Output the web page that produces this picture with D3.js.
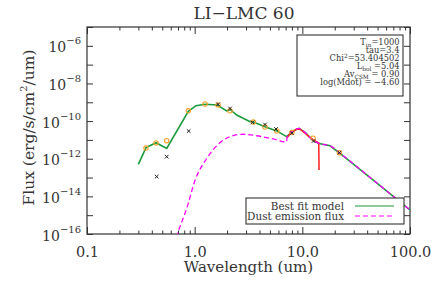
<!DOCTYPE html>
<html>
<head>
<meta charset="utf-8">
<script src="https://cdn.jsdelivr.net/npm/d3@7"></script>
<style>
  body { margin: 0; background: #fff; }
  text { font-family: "DejaVu Serif", serif; fill: #333; }
</style>
</head>
<body>
<div id="chart"></div>
<script>
// model SED (best fit)
var modelWave = [0.30, 0.353, 0.438, 0.55, 0.873, 1.03, 1.25, 1.62, 1.98, 2.15, 2.46, 3.27, 3.51, 4.50, 5.78, 7.13, 8.24, 9.31, 10.6, 12.6, 14.3, 18.1, 22.4, 50, 100];
var modelFlux = [5.0e-13, 3.9e-12, 7.1e-12, 3.5e-12, 3.3e-10, 6.6e-10, 7.8e-10, 7.2e-10, 3.5e-10, 4.0e-10, 2.1e-10, 9.3e-11, 8.9e-11, 5.0e-11, 3.0e-11, 1.5e-11, 3.1e-11, 4.1e-11, 2.5e-11, 9.3e-12, 6.5e-12, 4.9e-12, 1.95e-12, 4.8e-14, 1.9e-15];

// dust emission
var dustWave = [0.65, 0.69, 0.844, 1.01, 1.29, 1.63, 2.13, 2.83, 3.77, 5.37, 7.10, 7.25, 8.24, 9.31, 10.6, 12.6, 14.3, 18.1, 22.4, 50, 100];
var dustFlux = [2.5e-17, 8.9e-17, 2.3e-15, 7.4e-14, 1.0e-12, 5.4e-12, 1.5e-11, 2.0e-11, 1.66e-11, 1.12e-11, 7.8e-12, 1.55e-11, 3.1e-11, 4.1e-11, 2.5e-11, 9.3e-12, 6.5e-12, 4.9e-12, 1.95e-12, 4.8e-14, 1.9e-15];

// IRS spectrum
var specWave = [7.2, 7.6, 8.2, 8.9, 9.6, 10.5, 11.5, 12.5, 13.4, 14.2, 14.3];
var specFlux = [1.32e-11, 1.9e-11, 2.8e-11, 3.8e-11, 3.6e-11, 2.4e-11, 1.5e-11, 1.05e-11, 8.3e-12, 6.8e-12, 2.5e-13];

// observed photometry (crosses)
var obsWave = [0.444, 0.55, 0.88, 1.65, 2.13, 3.44, 4.50, 5.69, 8.0, 12.7, 22.1];
var obsFlux = [1.12e-13, 1.29e-12, 2.95e-11, 7.8e-10, 4.7e-10, 8.5e-11, 6.6e-11, 3.8e-11, 2.3e-11, 8.7e-12, 2.1e-12];

// corrected photometry (circles)
var corWave = [0.353, 0.438, 0.55, 0.873, 1.25, 1.65, 2.13, 3.51, 4.50, 5.8, 8.0, 12.6, 22.1];
var corFlux = [3.7e-12, 6.9e-12, 9.1e-12, 3.5e-10, 8.1e-10, 7.2e-10, 3.5e-10, 8.9e-11, 4.8e-11, 2.95e-11, 2.45e-11, 1.23e-11, 2.1e-12];

var xMajor = [0.1, 1, 10, 100];
var xMajorLabels = ["0.1", "1.0", "10.0", "100.0"];
var yExponents = [-16, -14, -12, -10, -8, -6];

var params = [
  {main: "T", sub: "in", rest: "=1000"},
  {main: "tau=3.4"},
  {main: "Chi", sup: "2", rest: "=53.404502"},
  {main: "L", sub: "bol", rest: " =5.04"},
  {main: "Av", sub: "CSM", rest: " = 0.90"},
  {main: "log(Mdot) = \u22124.60"}
];

var W = 436, H = 290;
var pLeft = 87, pRight = 410, pTop = 27, pBottom = 234;

var svg = d3.select("#chart").append("svg")
  .attr("width", W).attr("height", H);

var x = d3.scaleLog().domain([0.1, 100]).range([pLeft, pRight]);
var y = d3.scaleLog().domain([1e-16, 1e-5]).range([pBottom, pTop]);

svg.append("defs").append("clipPath").attr("id", "clip")
  .append("rect").attr("x", pLeft).attr("y", pTop)
  .attr("width", pRight - pLeft).attr("height", pBottom - pTop);

// title
svg.append("text").text("LI\u2212LMC 60")
  .attr("x", 244).attr("y", 18.5)
  .attr("text-anchor", "middle").style("font-size", "17px");

// x minor ticks
var xMinor = [];
[0.1, 1, 10].forEach(function(d) {
  for (var k = 2; k <= 9; k++) xMinor.push(d * k);
});

svg.append("g").attr("transform", "translate(0," + pBottom + ")")
  .call(d3.axisBottom(x).tickValues(xMinor).tickSize(-3.5).tickFormat(""));
svg.append("g").attr("transform", "translate(0," + pBottom + ")")
  .call(d3.axisBottom(x).tickValues(xMajor).tickSize(-7).tickPadding(13)
    .tickFormat(function(d, i) { return xMajorLabels[i]; }));
svg.append("g").attr("transform", "translate(0," + pTop + ")")
  .call(d3.axisTop(x).tickValues(xMinor).tickSize(-3.5).tickFormat(""));
svg.append("g").attr("transform", "translate(0," + pTop + ")")
  .call(d3.axisTop(x).tickValues(xMajor).tickSize(-7).tickFormat(""));

// y ticks every decade
var yTicks = d3.range(-16, -4).map(function(e) { return Math.pow(10, e); });
svg.append("g").attr("transform", "translate(" + pLeft + ",0)")
  .call(d3.axisLeft(y).tickValues(yTicks).tickSize(-6).tickFormat(""));
svg.append("g").attr("transform", "translate(" + pRight + ",0)")
  .call(d3.axisRight(y).tickValues(yTicks).tickSize(-6).tickFormat(""));

svg.selectAll(".domain").remove();
svg.selectAll(".tick line").attr("stroke", "#333");
svg.selectAll(".tick text").style("font-size", "14.5px").style("font-family", "DejaVu Serif, serif").attr("fill", "#333");

// frame
svg.append("rect").attr("x", pLeft).attr("y", pTop)
  .attr("width", pRight - pLeft).attr("height", pBottom - pTop)
  .attr("fill", "none").attr("stroke", "#333").attr("stroke-width", 1.2);

// y labels
yExponents.forEach(function(e) {
  var t = svg.append("text")
    .attr("x", 81).attr("y", y(Math.pow(10, e)) + 6.5)
    .attr("text-anchor", "end").style("font-size", "14px");
  t.append("tspan").text("10");
  t.append("tspan").text("\u2212" + (-e)).attr("dy", -8).style("font-size", "10px");
});

// axis titles
svg.append("text").text("Wavelength (um)")
  .attr("x", 248.5).attr("y", 272).attr("text-anchor", "middle")
  .style("font-size", "15px");
var yl = svg.append("text")
  .attr("transform", "translate(34," + 127.5 + ") rotate(-90)")
  .attr("text-anchor", "middle").style("font-size", "15.5px");
yl.append("tspan").text("Flux (erg/s/cm");
yl.append("tspan").text("2").attr("dy", -7).style("font-size", "10px");
yl.append("tspan").text("/um)").attr("dy", 7);

var plot = svg.append("g").attr("clip-path", "url(#clip)");

function pts(w, f) { return w.map(function(d, i) { return [d, f[i]]; }); }
var line = d3.line().x(function(d) { return x(d[0]); }).y(function(d) { return y(d[1]); });
var smooth = d3.line().curve(d3.curveMonotoneX)
  .x(function(d) { return x(d[0]); }).y(function(d) { return y(d[1]); });

plot.append("path").datum(pts(modelWave, modelFlux)).attr("d", line)
  .attr("fill", "none").attr("stroke", "#1a9a3a").attr("stroke-width", 1.6);
plot.append("path").datum(pts(specWave, specFlux)).attr("d", line)
  .attr("fill", "none").attr("stroke", "#ff2a2a").attr("stroke-width", 1.6);
plot.append("path").datum(pts(dustWave, dustFlux)).attr("d", smooth)
  .attr("fill", "none").attr("stroke", "#ff00ff").attr("stroke-width", 1.3)
  .attr("stroke-dasharray", "5,3");

// circles
plot.selectAll(".cor").data(pts(corWave, corFlux)).enter().append("circle")
  .attr("cx", function(d) { return x(d[0]); }).attr("cy", function(d) { return y(d[1]); })
  .attr("r", 2.2).attr("fill", "none").attr("stroke", "#f5a02a").attr("stroke-width", 1.1);

// crosses
plot.selectAll(".obs").data(pts(obsWave, obsFlux)).enter().append("path")
  .attr("transform", function(d) { return "translate(" + x(d[0]) + "," + y(d[1]) + ")"; })
  .attr("d", "M-1.8,-1.8L1.8,1.8M-1.8,1.8L1.8,-1.8")
  .attr("stroke", "#222").attr("stroke-width", 1);

// parameter box
svg.append("rect").attr("x", 297).attr("y", 35).attr("width", 106).attr("height", 61)
  .attr("fill", "#fff").attr("stroke", "#333").attr("stroke-width", 1.1);
params.forEach(function(p, i) {
  var t = svg.append("text").attr("x", 399.5).attr("y", 45 + i * 8)
    .attr("text-anchor", "end").style("font-size", "8.3px");
  t.append("tspan").text(p.main);
  if (p.sub) {
    t.append("tspan").text(p.sub).attr("dy", 1.5).style("font-size", "5.8px");
    t.append("tspan").text(p.rest).attr("dy", -1.5);
  } else if (p.sup) {
    t.append("tspan").text(p.sup).attr("dy", -3).style("font-size", "5.8px");
    t.append("tspan").text(p.rest).attr("dy", 3);
  }
});

// legend
svg.append("rect").attr("x", 246).attr("y", 198).attr("width", 158).attr("height", 26)
  .attr("fill", "#fff").attr("stroke", "#333").attr("stroke-width", 1.1);
var legend = [
  {label: "Best fit model", color: "#1a9a3a", dash: null},
  {label: "Dust emission flux", color: "#ff00ff", dash: "5,3"}
];
legend.forEach(function(l, i) {
  svg.append("text").text(l.label).attr("x", 344).attr("y", 209.5 + i * 10)
    .attr("text-anchor", "end").style("font-size", "10.4px");
  svg.append("line").attr("x1", 355).attr("x2", 394)
    .attr("y1", 206 + i * 10).attr("y2", 206 + i * 10)
    .attr("stroke", l.color).attr("stroke-width", 1.2)
    .attr("stroke-dasharray", l.dash);
});
</script>
</body>
</html>
